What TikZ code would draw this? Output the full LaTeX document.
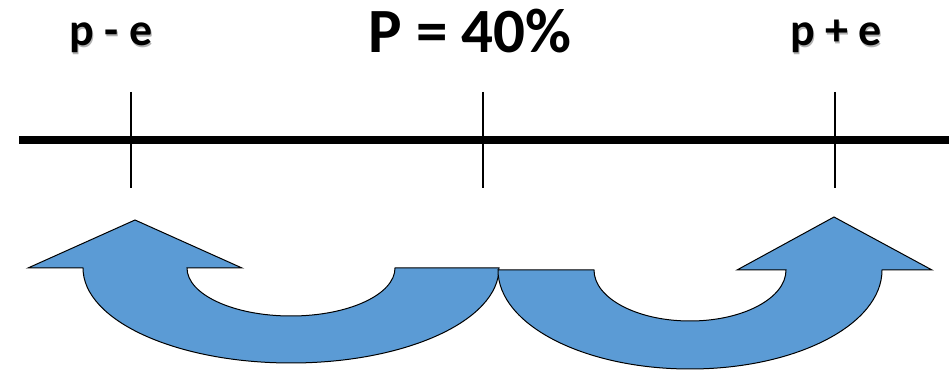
\documentclass[tikz,border=0pt]{standalone}
\usepackage{fontspec}
\setmainfont{Carlito}
\usepackage{xcolor}
\usepackage{tikz}
\definecolor{arrowblue}{HTML}{5B9BD5}
\newcommand{\shtext}[1]{\rlap{\kern1.2pt\raisebox{-1.2pt}{\color{black!30}#1}}#1}

\begin{document}
\begin{tikzpicture}[x=1pt,y=1pt]
\useasboundingbox (0,0) rectangle (949,371);
\tikzset{lbl/.style={anchor=base,inner sep=0pt,font=\bfseries\fontsize{46}{50}\selectfont},
  uarrow/.style={fill=arrowblue,draw=black,line width=1pt,line join=miter}}
% axis and ticks
\coordinate (axl) at (19,231);
\coordinate (axr) at (949,231);
\draw[line width=8pt] (axl)--(axr);
\foreach \x/\nm in {131/lo,483/mid,835/hi}{\coordinate (t\nm) at (\x,279); \coordinate (b\nm) at (\x,183); \draw[line width=2pt] (t\nm)--(b\nm);}
% labels
\node[lbl] (lolab) at (111,325) {\shtext{p - e}};
\node[lbl] (hilab) at (836,325) {\shtext{p + e}};
\node[anchor=base,inner sep=0pt,font=\bfseries\fontsize{63}{70}\selectfont] (plab) at (470,318) {P = 40\%};
% curved arrows
\draw[uarrow] (28,103)--(135,151)--(242,103)--(187,103) arc[start angle=180,end angle=360,x radius=104,y radius=48]--(499,103) arc[start angle=0,end angle=-180,x radius=208,y radius=95]--cycle;
\draw[uarrow] (498,101)--(594,101) arc[start angle=180,end angle=360,x radius=96,y radius=51]--(737,101)--(834,154)--(932,101)--(882,101) arc[start angle=0,end angle=-180,x radius=192,y radius=99]--cycle;
\end{tikzpicture}
\end{document}
